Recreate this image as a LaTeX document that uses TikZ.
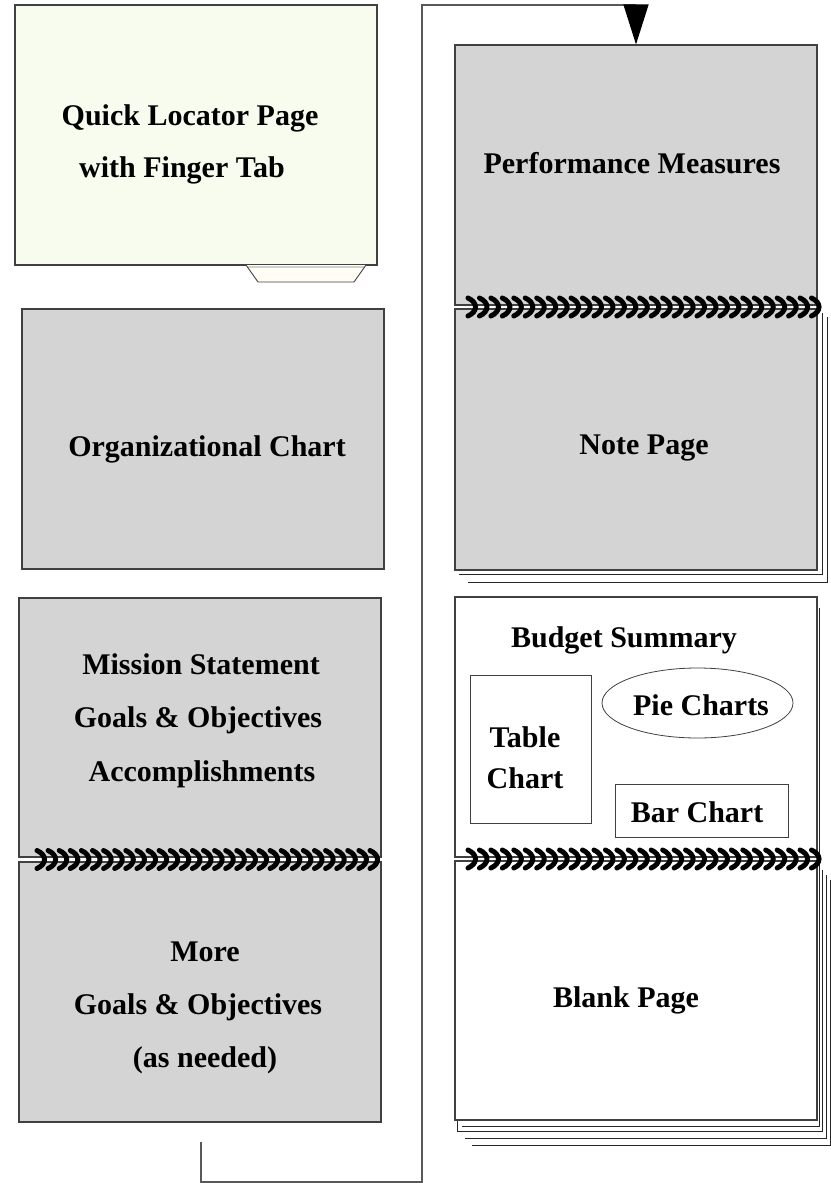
\documentclass[tikz,border=0pt]{standalone}
\usepackage{fontspec}
\setmainfont{Liberation Serif}
\usetikzlibrary{arrows.meta,shapes.geometric}
\definecolor{qlfill}{RGB}{247,252,238}
\definecolor{tabfill}{RGB}{255,253,244}
\definecolor{dotgray}{RGB}{212,212,212}
\begin{document}
\begin{tikzpicture}[x=1pt,y=-1pt,
  pagebox/.style={draw=black!75, line width=1.1pt, fill=dotgray, inner sep=0pt, minimum width=362pt},
  whitepage/.style={pagebox, fill=white},
  lbl/.style={font=\fontsize{30}{36}\selectfont\bfseries, anchor=base, inner sep=0pt},
  subbox/.style={draw=black!75, line width=0.8pt, fill=white, inner sep=0pt},
  conn/.style={draw=black!65, line width=1.3pt},
  backline/.style={draw=black!85, line width=0.9pt},
  coil/.pic={\draw[black, line width=5pt, line cap=round] (-1,-9) .. controls (9,-4.5) and (9,4.5) .. (-1,9);}
]
\useasboundingbox (0,0) rectangle (830,1183);

% ---------- left column ----------
\node[pagebox, fill=qlfill, minimum height=260pt] (ql) at (196,135) {};
\fill[tabfill] (246,265) -- (258,282) -- (354,282) -- (366,265) -- cycle;
\fill[black!18] (248,265.5) rectangle (364,268);
\draw[black!75, line width=0.9pt] (246,265) -- (258,282) -- (354,282) -- (366,265);
\node[lbl] (ql1) at (190,125) {Quick Locator Page};
\node[lbl] (ql2) at (182,177) {with Finger Tab};

\node[pagebox, minimum height=260pt] (org) at (203,439) {};
\node[lbl] (orgt) at (207,456) {Organizational Chart};

\node[pagebox, minimum height=259pt] (mis) at (200,727.5) {};
\node[lbl] (mis1) at (201,674) {Mission Statement};
\node[lbl] (mis2) at (198,727) {Goals \& Objectives};
\node[lbl] (mis3) at (202,781) {Accomplishments};

\node[pagebox, minimum height=260pt] (more) at (200,992) {};
\node[lbl] (more1) at (205,961) {More};
\node[lbl] (more2) at (198,1014) {Goals \& Objectives};
\node[lbl] (more3) at (205,1067) {(as needed)};

\foreach \i in {0,...,30} \pic at (38+\i*11.1,859.5) {coil};

% ---------- right column ----------
\draw[backline] (827,317) -- (827,582) -- (468,582);
\draw[backline] (822,313) -- (822,574) -- (459,574);
\node[pagebox, minimum height=260pt] (perf) at (636,175) {};
\node[lbl] (perft) at (632,173) {Performance Measures};
\node[pagebox, minimum height=261pt] (note) at (636,439.5) {};
\node[lbl] (notet) at (644,454) {Note Page};
\foreach \i in {0,...,30} \pic at (469+\i*11.45,307) {coil};

% stacked pages behind the budget / blank pages
\draw[backline] (830,880) -- (830,1145) -- (472,1145);
\draw[backline] (826,875) -- (826,1138) -- (465,1138);
\draw[backline, fill=white] (822,870) -- (822,1131) -- (457,1131) -- (457,1120);
\draw[backline] (819,608) -- (819,1126) -- (462,1126);

\node[whitepage, minimum height=260pt] (budget) at (636,727) {};
\node[lbl] (budgett) at (624,647) {Budget Summary};
\node[subbox, minimum width=121pt, minimum height=148pt] (table) at (530.5,749) {};
\node[lbl] (table1) at (525,747) {Table};
\node[lbl] (table2) at (525,788) {Chart};
\node[subbox, ellipse, minimum width=191pt, minimum height=70pt] (pie) at (697.5,703) {};
\node[lbl] (piet) at (701,715) {Pie Charts};
\node[subbox, minimum width=173pt, minimum height=53pt] (bar) at (701.5,810.5) {};
\node[lbl] (bart) at (697,822) {Bar Chart};

\node[whitepage, minimum height=259pt] (blank) at (636,990.5) {};
\node[lbl] (blankt) at (626,1007) {Blank Page};
\foreach \i in {0,...,30} \pic at (469+\i*11.45,859) {coil};

% ---------- connector ----------
\coordinate (c0) at (201,1142);
\draw[conn, -{Triangle[length=40pt,width=25pt,color=black]}]
  (c0) -- (201,1182) -- (422,1182) -- (422,5) -| (perf.north);
\end{tikzpicture}
\end{document}
